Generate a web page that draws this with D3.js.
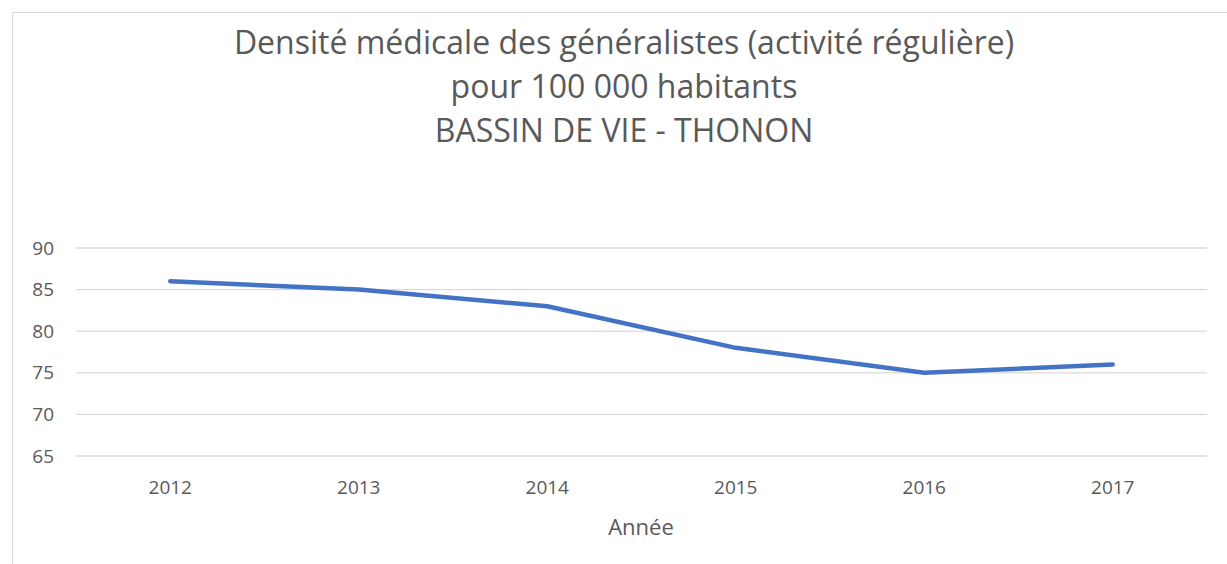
<!DOCTYPE html>
<html>
<head>
<meta charset="utf-8">
<script src="https://cdn.jsdelivr.net/npm/d3@7"></script>
<style>
  body { margin: 0; background: #fff; }
  svg { display: block; font-family: "Open Sans", "Noto Sans", sans-serif; }
</style>
</head>
<body>
<div id="chart"></div>
<script>
const years = ["2012", "2013", "2014", "2015", "2016", "2017"];
const density = [86, 85, 83, 78, 75, 76];
const yTicks = [65, 70, 75, 80, 85, 90];
const titleLines = [
  "Densité médicale des généralistes (activité régulière)",
  "pour 100 000 habitants",
  "BASSIN DE VIE - THONON"
];
const xTitle = "Année";

const width = 1227, height = 564;
const svg = d3.select("#chart").append("svg")
  .attr("width", width)
  .attr("height", height);

// chart frame
svg.append("rect")
  .attr("x", 12.5).attr("y", 12.5)
  .attr("width", width).attr("height", height)
  .attr("fill", "none")
  .attr("stroke", "#d9d9d9");

const x = d3.scaleBand().domain(years).range([76, 1207]);
const y = d3.scaleLinear().domain([65, 90]).range([456, 248]);

// title
const tl = svg.append("g").selectAll("text")
  .data(titleLines)
  .enter().append("text")
  .attr("x", 624)
  .attr("y", (d, i) => 54 + i * 44)
  .attr("text-anchor", "middle")
  .attr("fill", "#595959")
  .style("font-size", "30px")
  .text(d => d);
// fit first line width to reference
const w0 = tl.node().getComputedTextLength();
tl.style("font-size", Math.min(30 * 794 / w0, 32) + "px");

// gridlines
svg.append("g")
  .selectAll("line")
  .data(yTicks)
  .enter().append("line")
  .attr("x1", 76).attr("x2", 1207)
  .attr("y1", d => y(d)).attr("y2", d => y(d))
  .attr("stroke", "#d9d9d9")
  .attr("stroke-width", 1.3);

// y axis labels
const yAxis = svg.append("g")
  .attr("transform", "translate(66,0)")
  .call(d3.axisLeft(y).tickValues(yTicks).tickSize(0).tickPadding(12));
yAxis.select(".domain").remove();
yAxis.selectAll("text")
  .attr("fill", "#595959")
  .style("font-size", "19px")
  .style("font-family", "\"Open Sans\", sans-serif");

// x axis labels
const xAxis = svg.append("g")
  .attr("transform", "translate(0,474)")
  .call(d3.axisBottom(x).tickSize(0).tickPadding(6));
xAxis.select(".domain").remove();
xAxis.selectAll("text")
  .attr("fill", "#595959")
  .style("font-size", "19px")
  .style("font-family", "\"Open Sans\", sans-serif");

// x axis title
svg.append("text")
  .attr("x", 641)
  .attr("y", 535)
  .attr("text-anchor", "middle")
  .attr("fill", "#595959")
  .style("font-size", "22px")
  .text(xTitle);

// line
const line = d3.line()
  .x((d, i) => x(years[i]) + x.bandwidth() / 2)
  .y(d => y(d));

svg.append("path")
  .datum(density)
  .attr("d", line)
  .attr("fill", "none")
  .attr("stroke", "#4472c4")
  .attr("stroke-width", 4.5)
  .attr("stroke-linecap", "round")
  .attr("stroke-linejoin", "round");
</script>
</body>
</html>
